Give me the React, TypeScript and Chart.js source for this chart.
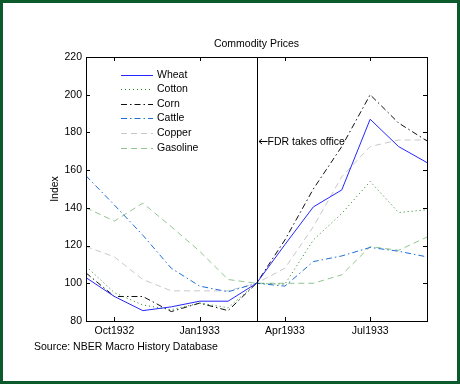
import React, { useEffect, useRef } from "react";
import { Chart, registerables } from "chart.js";

Chart.register(...registerables);

const months = ["Sep1932", "Oct1932", "Nov1932", "Dec1932", "Jan1933", "Feb1933", "Mar1933", "Apr1933", "May1933", "Jun1933", "Jul1933", "Aug1933", "Sep1933"];
const tickMonths = ["Oct1932", "Jan1933", "Apr1933", "Jul1933"];
const yTicks = [80, 100, 120, 140, 160, 180, 200, 220];

const wheat = [103, 93, 85.5, 87.5, 90.5, 90.5, 100, 120.5, 140.5, 149.5, 187, 172.5, 164];
const cotton = [109, 95, 88.5, 86, 89.5, 87, 100, 99.5, 123, 137, 154, 137.5, 139];
const corn = [105.5, 93, 93, 85, 89.5, 85.5, 100, 123, 150, 172.5, 200, 185, 175.5];
const cattle = [157, 141.5, 125.5, 108, 98.5, 95.5, 100, 98.5, 111.5, 114.5, 119, 117, 114];
const copper = [119.5, 114, 102, 96, 96, 96, 100, 108, 130, 156.5, 172.5, 176, 176];
const gasoline = [140, 133, 142.5, 130, 117, 102, 100, 100, 100, 104.5, 119.5, 117.5, 124.5];

const FONT = '"Liberation Sans", Arial, sans-serif';

export default function App() {
  const ref = useRef<HTMLCanvasElement | null>(null);

  useEffect(() => {
    if (!ref.current) return;
    const series = [
      { label: "Wheat", data: wheat, color: "#2626ff", dash: [] as number[] },
      { label: "Cotton", data: cotton, color: "#1f7f1f", dash: [1, 3] },
      { label: "Corn", data: corn, color: "#111111", dash: [6, 3, 1.5, 3] },
      { label: "Cattle", data: cattle, color: "#1f6fd6", dash: [6, 3, 1.5, 3] },
      { label: "Copper", data: copper, color: "#c8c8c8", dash: [6, 4] },
      { label: "Gasoline", data: gasoline, color: "#92c492", dash: [6, 4] },
    ];

    const deco = {
      id: "deco",
      beforeDraw(chart: any) {
        const ctx = chart.ctx;
        ctx.save();
        ctx.fillStyle = "#ffffff";
        ctx.fillRect(0, 0, chart.width, chart.height);
        ctx.restore();
      },
      afterDraw(chart: any) {
        const ctx = chart.ctx;
        const a = chart.chartArea;
        const xs = chart.scales.x;
        const ys = chart.scales.y;
        ctx.save();
        // frame
        ctx.strokeStyle = "#000";
        ctx.lineWidth = 1;
        ctx.setLineDash([]);
        ctx.strokeRect(Math.round(a.left) + 0.5, Math.round(a.top) + 0.5, Math.round(a.right - a.left), Math.round(a.bottom - a.top));
        // ticks
        ctx.beginPath();
        yTicks.forEach((v) => {
          const py = Math.round(ys.getPixelForValue(v)) + 0.5;
          ctx.moveTo(a.left, py); ctx.lineTo(a.left + 4, py);
          ctx.moveTo(a.right, py); ctx.lineTo(a.right - 4, py);
        });
        tickMonths.forEach((m) => {
          const px = Math.round(xs.getPixelForValue(months.indexOf(m))) + 0.5;
          ctx.moveTo(px, a.bottom); ctx.lineTo(px, a.bottom - 4);
          ctx.moveTo(px, a.top); ctx.lineTo(px, a.top + 4);
        });
        ctx.stroke();
        // FDR line
        const fx = Math.round(xs.getPixelForValue(months.indexOf("Mar1933"))) + 0.5;
        ctx.beginPath();
        ctx.moveTo(fx, a.top); ctx.lineTo(fx, a.bottom);
        ctx.stroke();
        // arrow
        const ay = 141.5;
        ctx.beginPath();
        ctx.moveTo(fx + 1.5, ay); ctx.lineTo(fx + 10, ay);
        ctx.moveTo(fx + 4.5, ay - 2.5); ctx.lineTo(fx + 1.5, ay); ctx.lineTo(fx + 4.5, ay + 2.5);
        ctx.stroke();
        ctx.fillStyle = "#000";
        ctx.font = `10.5px ${FONT}`;
        ctx.textAlign = "left";
        ctx.textBaseline = "middle";
        ctx.fillText("FDR takes office", fx + 10, 142);
        // title
        ctx.textAlign = "center";
        ctx.fillText("Commodity Prices", (a.left + a.right) / 2, 44);
        // source
        ctx.textAlign = "left";
        ctx.fillText("Source: NBER Macro History Database", 34, 347);
        // y title
        ctx.save();
        ctx.translate(55, 189);
        ctx.rotate(-Math.PI / 2);
        ctx.textAlign = "center";
        ctx.fillText("Index", 0, 0);
        ctx.restore();
        // legend
        series.forEach((s, i) => {
          const y = Math.round(74.5 + i * 14.6) + 0.5;
          ctx.strokeStyle = s.color;
          ctx.setLineDash(s.dash);
          ctx.lineWidth = 1;
          ctx.beginPath();
          ctx.moveTo(121, y); ctx.lineTo(153, y);
          ctx.stroke();
          ctx.setLineDash([]);
          ctx.fillStyle = "#000";
          ctx.textAlign = "left";
          ctx.fillText(s.label, 157, y);
        });
        // outer border
        ctx.strokeStyle = "#0b5a2c";
        ctx.lineWidth = 3;
        ctx.strokeRect(1.5, 1.5, chart.width - 3, chart.height - 3);
        ctx.restore();
      },
    };

    const chart = new Chart(ref.current, {
      type: "line",
      data: {
        labels: months,
        datasets: series.map((s) => ({
          label: s.label,
          data: s.data,
          borderColor: s.color,
          backgroundColor: s.color,
          borderDash: s.dash,
          borderWidth: 1,
          pointRadius: 0,
          tension: 0,
          fill: false,
        })),
      },
      options: {
        animation: false,
        responsive: false,
        devicePixelRatio: 1,
        layout: { padding: { left: 36, right: 33, top: 57, bottom: 43 } },
        plugins: { legend: { display: false }, title: { display: false }, tooltip: { enabled: false } },
        scales: {
          x: {
            type: "category",
            offset: false,
            grid: { display: false, drawTicks: false },
            border: { display: false },
            afterFit: (s: any) => { s.height = 20; },
            ticks: {
              autoSkip: false,
              maxRotation: 0,
              padding: 4,
              color: "#000",
              font: { family: FONT, size: 10.5 },
              callback: (_v: any, i: number) => (tickMonths.includes(months[i]) ? months[i] : ""),
            },
          },
          y: {
            min: 80,
            max: 220,
            grid: { display: false, drawTicks: false },
            border: { display: false },
            afterFit: (s: any) => { s.width = 50; },
            afterBuildTicks: (s: any) => { s.ticks = yTicks.map((v) => ({ value: v })); },
            ticks: {
              padding: 4,
              color: "#000",
              font: { family: FONT, size: 10.5 },
            },
          },
        },
      },
      plugins: [deco],
    });
    return () => chart.destroy();
  }, []);

  return (
    <div style={{ position: "absolute", left: 0, top: 0, width: 460, height: 384 }}>
      <canvas ref={ref} width={460} height={384} />
    </div>
  );
}
